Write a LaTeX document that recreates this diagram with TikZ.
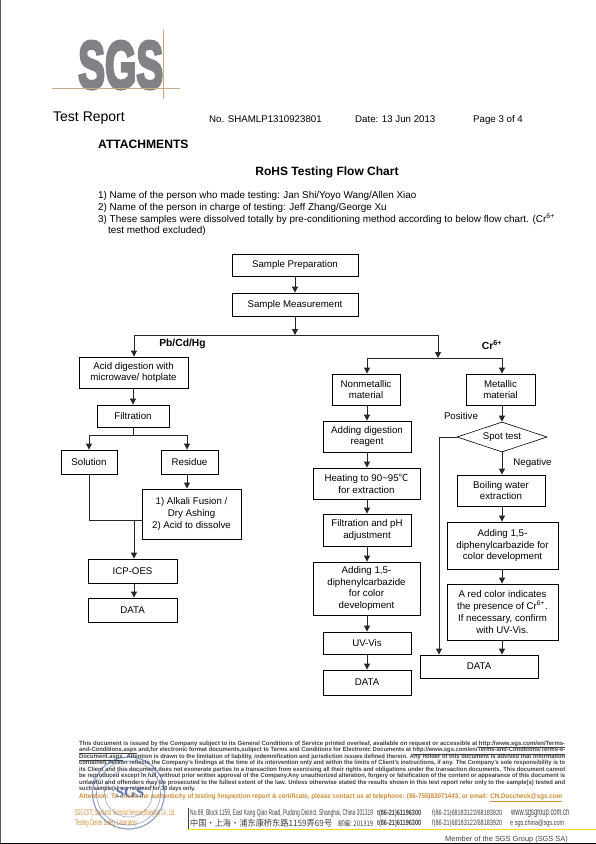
\documentclass[tikz,border=0pt]{standalone}
\usepackage{fontspec}
\setmainfont{Liberation Sans}
\newfontfamily\cjkf{Noto Sans CJK SC}
\newfontfamily\logofont{Liberation Sans}[BoldFeatures={FakeBold=5}]
\usetikzlibrary{arrows.meta,shapes.geometric,calc}
\definecolor{logogray}{RGB}{128,130,133}
\definecolor{logotan}{RGB}{205,170,130}
\definecolor{foot}{RGB}{65,65,65}
\definecolor{orangefoot}{RGB}{205,140,50}
\definecolor{stampblue}{RGB}{70,100,170}
\tikzset{
 x=1pt,y=-1pt,
 box/.style={draw=black,line width=0.9pt,fill=white,align=center,font=\fontsize{9.7}{11.8}\selectfont,inner sep=0pt},
 flow/.style={line width=1pt,draw=black!85},
 arr/.style={flow,-{Triangle[length=6pt,width=6pt]}},
 plain/.style={inner sep=0pt,anchor=west},
 lbl/.style={inner sep=0pt,font=\fontsize{9.7}{11}\selectfont},
 bl/.style={inner sep=0pt,font=\bfseries\fontsize{10.3}{11}\selectfont},
 bodytxt/.style={plain,font=\fontsize{9.9}{11}\selectfont},
 headtxt/.style={plain,font=\fontsize{9.7}{11}\selectfont},
}
\newcommand{\mkbox}[6]{% name left top right bottom text
 \node[box,minimum width=#4pt-#2pt,minimum height=#5pt-#3pt] (#1) at ({(#2+#4)/2},{(#3+#5)/2}) {#6};}
\newcommand{\fline}[3]{% y, width, text
 \node[inner sep=0pt,anchor=base west,text=foot] at (79,#1) {\resizebox{#2pt}{5.1pt}{\bfseries\strut\smash{#3}}};}
\begin{document}
\begin{tikzpicture}
\useasboundingbox (0,0) rectangle (596,844);
\fill[white] (0,0) rectangle (596,844);
\fill[black!65] (0,0) rectangle (1.2,844);
% logo
\node[inner sep=0pt,anchor=north west,text=logogray] (sgs) at (78,41) {\resizebox{85pt}{47pt}{\logofont\bfseries SGS}};
\coordinate (lh1) at (52,88); \coordinate (lh2) at (180,88);
\coordinate (lv1) at (163,30); \coordinate (lv2) at (163,99);
\draw[logotan,line width=0.7pt] (lh1)--(lh2);
\draw[logotan,line width=0.7pt] (lv1)--(lv2);
% header
\node[plain,font=\fontsize{14}{16}\selectfont] (tr) at (53,118) {Test Report};
\node[headtxt] (no) at (209,119.5) {No. SHAMLP1310923801};
\node[headtxt] (dt) at (355,119.5) {Date: 13 Jun 2013};
\node[headtxt] (pg) at (473,119.5) {Page 3 of 4};
\node[plain,font=\bfseries\fontsize{12.1}{14}\selectfont] (att) at (98,144) {ATTACHMENTS};
\node[inner sep=0pt,font=\bfseries\fontsize{12}{14}\selectfont] (ttl) at (327,172) {RoHS Testing Flow Chart};
\node[bodytxt] (l1) at (98,196) {1) Name of the person who made testing: Jan Shi/Yoyo Wang/Allen Xiao};
\node[bodytxt] (l2) at (98,208) {2) Name of the person in charge of testing: Jeff Zhang/George Xu};
\node[bodytxt] (l3) at (98,219) {3) These samples were dissolved totally by pre-conditioning method according to below flow chart. (Cr\textsuperscript{6+}};
\node[bodytxt] (l4) at (108,231) {test method excluded)};
% flow boxes
\mkbox{prep}{232}{254}{358}{276}{Sample Preparation}
\mkbox{meas}{232}{293}{358}{316}{Sample Measurement}
\coordinate (jl) at (134,335); \coordinate (jm) at (295,335); \coordinate (jr) at (438,335);
\draw[arr] (prep)--(meas);
\draw[arr] (meas.south)--(jm);
\mkbox{acid}{79}{357}{188}{388}{Acid digestion with\\microwave/ hotplate}
\mkbox{filt}{97}{405}{169}{427}{Filtration}
\mkbox{sol}{61}{450}{117}{474}{Solution}
\mkbox{res}{161}{450}{218}{474}{Residue}
\mkbox{alk}{142}{489}{241}{539}{1) Alkali Fusion /\\Dry Ashing\\2) Acid to dissolve}
\mkbox{icp}{88}{559}{177}{583}{ICP-OES}
\mkbox{dl}{88}{598}{177}{622}{DATA}
\draw[flow] (jr)--(jl);
\draw[arr] (jl)--(acid.north-|jl);
\draw[arr] (acid.south-|filt)--(filt);
\coordinate (bf) at ($(filt.south)+(0,8)$);
\coordinate (bl) at (89,435); \coordinate (br) at (187,435);
\draw[flow] (filt.south)--(bf);
\draw[flow] (bl)--(br);
\draw[arr] (bl)--(bl|-sol.north);
\draw[arr] (br)--(br|-res.north);
\draw[arr] (res.south-|br)--(br|-alk.north);
\coordinate (ja) at (134,520);
\draw[flow] (bl|-sol.south)--(89,520)--(alk.west|-ja);
\draw[arr] (ja)--(ja|-icp.north);
\draw[arr] (icp.south-|ja)--(ja|-dl.north);
\node[bl] (pb) at (182.5,344) {Pb/Cd/Hg};
% middle
\coordinate (jc) at (438,358); \coordinate (cl) at (367,358); \coordinate (cr) at (502,358);
\draw[arr] (jr)--(jc);
\draw[flow] (cl)--(cr);
\node[bl] (cr6) at (492,345) {Cr\textsuperscript{6+}};
\mkbox{non}{332}{374}{400}{405}{Nonmetallic\\material}
\mkbox{dig}{323}{421}{411}{452}{Adding digestion\\reagent}
\mkbox{heat}{313}{468}{420}{499}{Heating to 90\textasciitilde 95{\cjkf ℃}\\for extraction}
\mkbox{fph}{323}{514}{411}{546}{Filtration and pH\\adjustment}
\mkbox{add}{313}{562}{420}{615}{Adding 1,5-\\diphenylcarbazide\\for color\\development}
\mkbox{uv}{323}{632}{411}{654}{UV-Vis}
\mkbox{dm}{323}{670}{411}{695}{DATA}
\draw[arr] (cl)--(cl|-non.north);
\draw[arr] (non.south-|cl)--(cl|-dig.north);
\draw[arr] (dig.south-|cl)--(cl|-heat.north);
\draw[arr] (heat.south-|cl)--(cl|-fph.north);
\draw[arr] (fph.south-|cl)--(cl|-add.north);
\draw[arr] (add.south-|cl)--(cl|-uv.north);
\draw[arr] (uv.south-|cl)--(cl|-dm.north);
% right
\mkbox{met}{466}{374}{535}{405}{Metallic\\material}
\node[box,diamond,aspect=3,minimum width=90pt,minimum height=30pt,inner sep=0pt,line width=0.6pt] (spot) at (502,437) {Spot test};
\mkbox{boil}{457}{475}{545}{506}{Boiling water\\extraction}
\mkbox{add2}{447}{522}{558}{569}{Adding 1,5-\\diphenylcarbazide for\\color development}
\mkbox{red}{447}{584}{558}{640}{A red color indicates\\the presence of Cr\textsuperscript{6+}.\\If necessary, confirm\\with UV-Vis.}
\mkbox{dr}{420}{655}{538}{678}{DATA}
\draw[arr] (cr)--(cr|-met.north);
\draw[arr] (met.south-|cr)--(spot.north);
\draw[arr] (spot.south)--(cr|-boil.north);
\draw[arr] (boil.south-|cr)--(cr|-add2.north);
\draw[arr] (add2.south-|cr)--(cr|-red.north);
\draw[arr] (red.south-|cr)--(cr|-dr.north);
\coordinate (pl) at (439,437);
\draw[arr] (spot.west)--(pl)--(pl|-dr.north);
\node[lbl] (pos) at (461,416) {Positive};
\node[lbl] (neg) at (532.5,463) {Negative};
% footer
\fline{745}{486}{This document is issued by the Company subject to its General Conditions of Service printed overleaf, available on request or accessible at \underline{http://www.sgs.com/en/Terms-}}
\fline{751.5}{486}{\underline{and-Conditions.aspx} and,for electronic format documents,subject to Terms and Conditions for Electronic Documents at \underline{http://www.sgs.com/en/Terms-and-Conditions/Terms-e-}}
\fline{758}{486}{\underline{Document.aspx}. Attention is drawn to the limitation of liability, indemnification and jurisdiction issues defined therein. Any holder of this document is advised that information}
\fline{764.5}{486}{contained hereon reflects the Company's findings at the time of its intervention only and within the limits of Client's instructions, if any.  The Company's sole responsibility is to}
\fline{771}{486}{its Client and this document does not exonerate parties to a transaction from exercising all their rights and obligations under the transaction documents. This document cannot}
\fline{777.5}{486}{be reproduced except in full, without prior written approval of the Company.Any unauthorized alteration, forgery or falsification of the content or appearance of this document is}
\fline{784}{486}{unlawful and offenders may be prosecuted to the fullest extent of the law. Unless otherwise stated the results shown in this test report refer only to the sample(s) tested and}
\fline{790.5}{116}{such sample(s) are retained for 30 days only.}
\node[inner sep=0pt,anchor=base west,text=orangefoot] (att2) at (79,798.5) {\resizebox{483pt}{4.9pt}{\bfseries Attention: To check the authenticity of testing /inspection report \& certificate, please contact us at telephone: (86-755)83071443, or email: \underline{CN.Doccheck@sgs.com}}};
\node[inner sep=0pt,anchor=base west,text=orangefoot] (co1) at (75,815) {\resizebox{100pt}{6pt}{SGS-CSTC Standards Technical Services(Shanghai) Co., Ltd.}};
\node[inner sep=0pt,anchor=base west,text=orangefoot] (co2) at (75,825) {\resizebox{62pt}{6pt}{Testing Center Safety Laboratory}};
\node[inner sep=0pt,anchor=base west,text=foot] (ad1) at (190,815) {\resizebox{183pt}{6pt}{No.69, Block 1159, East Kang Qiao Road, Pudong District, Shanghai, China  201319}};
\node[inner sep=0pt,anchor=base west,text=foot] (ad2) at (190,826) {\resizebox{142pt}{7.4pt}{\cjkf 中国・上海・浦东康桥东路1159弄69号}};
\node[inner sep=0pt,anchor=base west,text=foot] (ad3) at (338,826) {\resizebox{35pt}{6.4pt}{\cjkf 邮编: 201319}};
\node[inner sep=0pt,anchor=base west,text=foot] (t1) at (377,815) {\resizebox{44pt}{5.6pt}{\bfseries t(86-21)61196300}};
\node[inner sep=0pt,anchor=base west,text=foot] (t2) at (377,825.5) {\resizebox{44pt}{5.6pt}{\bfseries t(86-21)61196300}};
\node[inner sep=0pt,anchor=base west,text=foot] (f1) at (432,815) {\resizebox{70pt}{5.6pt}{f(86-21)68183122/68183920}};
\node[inner sep=0pt,anchor=base west,text=foot] (f2) at (432,825.5) {\resizebox{70pt}{5.6pt}{f(86-21)68183122/68183920}};
\node[inner sep=0pt,anchor=base west,text=foot] (w1) at (511,815) {\resizebox{58pt}{5.6pt}{www.sgsgroup.com.cn}};
\node[inner sep=0pt,anchor=base west,text=foot] (w2) at (510,825.5) {\resizebox{54pt}{5.6pt}{e  sgs.china@sgs.com}};
\coordinate (ya) at (188,829); \coordinate (yb) at (596,829); \coordinate (yc) at (188,808); \coordinate (yd) at (188,829);
\draw[yellow!80!orange,line width=0.9pt] (ya)--(yb);
\draw[foot,line width=0.5pt] (yc)--(yd);
\node[inner sep=0pt,anchor=base east,text=foot,font=\fontsize{7.4}{9}\selectfont] (mem) at (568,841) {Member of the SGS Group (SGS SA)};
\fill[black] (0,842.8) rectangle (596,844);
% stamp
\coordinate (st) at (128.5,793);
\draw[stampblue,line width=1.2pt,opacity=.6] (st) circle (36);
\draw[stampblue,line width=0.6pt,opacity=.6] (st) circle (32);
\draw[stampblue,line width=0.5pt,opacity=.6] (st) circle (24);
\node[inner sep=0pt,text=stampblue,opacity=.85,font=\fontspec{Liberation Serif}\bfseries\fontsize{15}{16}\selectfont] (sst) at (130,793) {SGS};
\end{tikzpicture}
\end{document}
